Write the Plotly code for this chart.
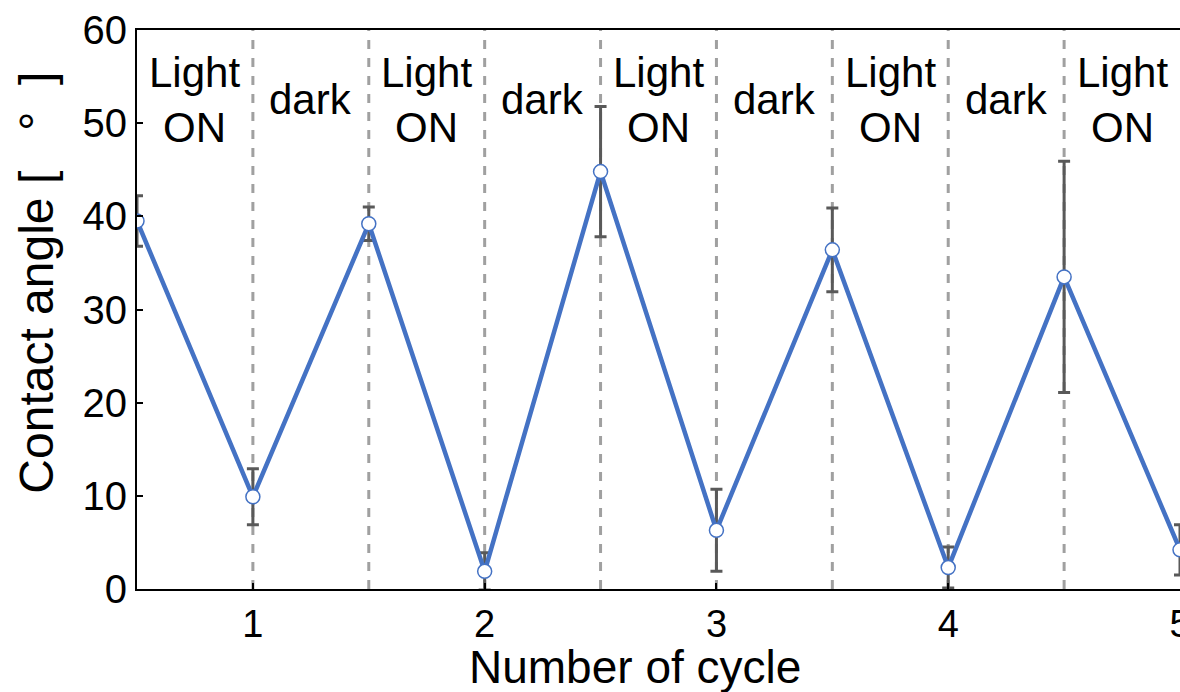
import plotly.graph_objects as go

# Contact angle measured over alternating light / dark half-cycles
cycle = [0.5, 1.0, 1.5, 2.0, 2.5, 3.0, 3.5, 4.0, 4.5, 5.0]
angle = [39.5, 9.9, 39.2, 1.9, 44.8, 6.3, 36.4, 2.3, 33.5, 4.2]
angle_err = [2.7, 3.0, 1.8, 2.0, 7.0, 4.4, 4.5, 2.2, 12.4, 2.7]

# Boundaries between phases and phase labels
boundaries = [1.0, 1.5, 2.0, 2.5, 3.0, 3.5, 4.0, 4.5]
phase_pos = [0.75, 1.25, 1.75, 2.25, 2.75, 3.25, 3.75, 4.25, 4.75]
phase_text = ["Light<br>ON", "dark", "Light<br>ON", "dark", "Light<br>ON",
              "dark", "Light<br>ON", "dark", "Light<br>ON"]
label_level = 52.5

x_ticks = [1, 2, 3, 4, 5]
y_ticks = [0, 10, 20, 30, 40, 50, 60]

FONT = "Liberation Sans, Arial, sans-serif"
BLUE = "#4472C4"

fig = go.Figure()

fig.add_trace(go.Scatter(
    x=cycle, y=angle,
    mode="lines+markers",
    line=dict(color=BLUE, width=4.5),
    marker=dict(size=14, color="white", line=dict(color=BLUE, width=1.5)),
    error_y=dict(type="data", array=angle_err, color="#595959",
                 thickness=3, width=6),
    showlegend=False,
))

for b in boundaries:
    fig.add_shape(type="line", xref="x", yref="y",
                  x0=b, x1=b, y0=0, y1=60, layer="below",
                  line=dict(color="#A0A0A0", width=3, dash="dash"))

for px, txt in zip(phase_pos, phase_text):
    fig.add_annotation(x=px, y=label_level, xref="x", yref="y",
                       text=txt, showarrow=False,
                       font=dict(family=FONT, size=42, color="black"))

# Axis titles
fig.add_annotation(x=-0.0959, y=0.548, xref="paper", yref="paper",
                   text="Contact angle [   °  ]", textangle=-90,
                   showarrow=False, xanchor="center", yanchor="middle",
                   font=dict(family=FONT, size=48, color="black"))
fig.add_annotation(x=0.4775, y=-0.1395, xref="paper", yref="paper",
                   text="Number of cycle", showarrow=False,
                   xanchor="center", yanchor="middle",
                   font=dict(family=FONT, size=46, color="black"))

fig.update_layout(
    width=1180, height=692,
    margin=dict(l=137, r=0, t=30, b=103),
    plot_bgcolor="white", paper_bgcolor="white",
    font=dict(family=FONT, color="black"),
)

fig.update_xaxes(
    range=[0.5, 5.0], tickvals=x_ticks, ticktext=[str(v) for v in x_ticks],
    showgrid=False, zeroline=False, automargin=False,
    showline=True, linecolor="black", linewidth=2, mirror=True,
    ticks="inside", ticklen=6, tickwidth=2, tickcolor="black",
    tickfont=dict(size=38), ticklabeloverflow="allow",
)

fig.update_yaxes(
    range=[0, 60], tickvals=y_ticks,
    showgrid=False, zeroline=False, automargin=False,
    showline=True, linecolor="black", linewidth=2, mirror=True,
    ticks="inside", ticklen=6, tickwidth=2, tickcolor="black",
    tickfont=dict(size=40), ticklabeloverflow="allow",
)

fig.write_html("out.html")
